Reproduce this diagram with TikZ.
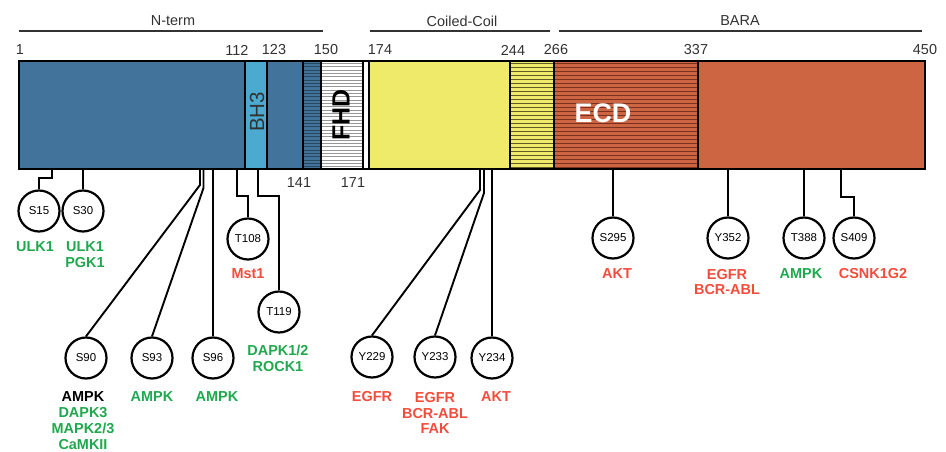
\documentclass[tikz,border=0pt]{standalone}
\usepackage{fontspec}
\setmainfont{Liberation Sans}
\usetikzlibrary{positioning}
\definecolor{nblue}{RGB}{66,116,155}
\definecolor{bhblue}{RGB}{76,170,208}
\definecolor{ccyel}{RGB}{240,234,106}
\definecolor{baraor}{RGB}{205,101,66}
\definecolor{kgreen}{RGB}{32,168,78}
\definecolor{kred}{RGB}{244,76,60}
\definecolor{txtgray}{RGB}{50,50,50}
\definecolor{hblue}{RGB}{40,72,98}
\definecolor{hgray}{RGB}{150,150,150}
\definecolor{hyel}{RGB}{95,92,40}
\definecolor{hor}{RGB}{120,50,30}

\begin{document}
\begin{tikzpicture}[x=1bp,y=-1bp,
  seg/.style={draw=black,line width=1.8bp},
  hatch/.style={line width=0.9bp},
  num/.style={text=txtgray,font=\fontsize{14.5}{16}\selectfont,inner sep=0pt},
  head/.style={text=txtgray,font=\fontsize{14.5}{16}\selectfont,inner sep=0pt},
  hline/.style={draw=txtgray,line width=1.3bp},
  site/.style={draw,circle,line width=2.2bp,minimum size=41bp,inner sep=0pt,fill=white,
    font=\fontsize{11.5}{12}\selectfont},
  stem/.style={line width=1.9bp},
  kin/.style={font=\fontsize{14.5}{16}\selectfont\bfseries,align=center,inner sep=0pt},
  kg/.style={kin,text=kgreen}, kr/.style={kin,text=kred}]
  \useasboundingbox (0,0) rectangle (946,452);
  % domain headers
  \node[head] (hN) at (173,21) {N-term};
  \node[head] (hC) at (462,21) {Coiled-Coil};
  \node[head] (hB) at (740,21) {BARA};
  \draw[hline] (19,31) -- (323,31);
  \draw[hline] (370,31) -- (550,31);
  \draw[hline] (559,31) -- (922,31);
  % residue numbers
  \foreach \n/\x in {1/20,112/237,123/274,150/326,174/380,244/513,266/556,337/696,450/925}
    \node[num] (n\n) at (\x,50) {\n};
  \node[num] (n141) at (299,183) {141};
  \node[num] (n171) at (353,183) {171};
  % fills
  \fill[nblue] (19,61) rectangle (245,169);
  \fill[bhblue] (245,61) rectangle (267,169);
  \fill[nblue] (267,61) rectangle (321,169);
  \fill[white] (321,61) rectangle (369,169);
  \fill[ccyel] (369,61) rectangle (554,169);
  \fill[baraor] (554,61) rectangle (925,169);
  % hatching
  \foreach \yy in {0,...,31} \draw[hatch,hblue] (303,{63.5+\yy*3.33}) -- (321,{63.5+\yy*3.33});
  \foreach \yy in {0,...,31} \draw[hatch,hgray] (321,{63.5+\yy*3.33}) -- (363,{63.5+\yy*3.33});
  \foreach \yy in {0,...,26} \draw[hatch,hyel] (510,{63.5+\yy*4}) -- (554,{63.5+\yy*4});
  \foreach \yy in {0,...,26} \draw[hatch,hor] (554,{63.5+\yy*4}) -- (698,{63.5+\yy*4});
  % segment borders
  \foreach \xa/\xb in {19/245,245/267,267/303,303/321,321/363,363/369,369/510,510/554,554/698,698/925}
    \draw[seg] (\xa,61) rectangle (\xb,169);
  % domain names
  \node[rotate=90,text=txtgray,font=\fontsize{20.5}{21}\selectfont,inner sep=0pt] (bh3) at (257,112) {BH3};
  \node[rotate=90,font=\fontsize{25}{26}\selectfont\bfseries,inner sep=0pt] (fhd) at (341,115) {FHD};
  \node[text=white,font=\fontsize{27}{28}\selectfont\bfseries,inner sep=0pt] (ecd) at (603,113) {ECD};
  % sites
  \foreach \s/\x/\y in {S15/39/211,S30/83/211,T108/248/239,T119/279/312,S90/86/358,S93/152/358,
    S96/213/358,Y229/372/357,Y233/435/357,Y234/492/358,S295/613/238,Y352/728/238,T388/804/238,S409/854/238}
    \node[site] (\s) at (\x,\y) {\s};
  % anchor points on the bar
  \foreach \s/\x in {S15/52,S30/83,S90/200,S93/203.5,S96/213,T108/237,T119/258,
    Y229/480,Y233/484,Y234/492,S295/613,Y352/728,T388/804,S409/841}
    \coordinate (b\s) at (\x,170);
  % stems
  \draw[stem] (bS15) -- ++(0,8) -| (S15.north);
  \draw[stem] (bS30) -- (S30.north);
  \draw[stem] (bT108) -- ++(0,26) -| (T108.north);
  \draw[stem] (bT119) -- ++(0,26) -| (T119.north);
  \draw[stem] (bS90) -- ++(0,15) -- (S90.north);
  \draw[stem] (bS93) -- ++(0,18) -- (S93.north);
  \draw[stem] (bS96) -- (S96.north);
  \draw[stem] (bY229) -- ++(0,20) -- (Y229.north);
  \draw[stem] (bY233) -- ++(0,23) -- (Y233.north);
  \draw[stem] (bY234) -- (Y234.north);
  \draw[stem] (bS295) -- (S295.north);
  \draw[stem] (bY352) -- (Y352.north);
  \draw[stem] (bT388) -- (T388.north);
  \draw[stem] (bS409) -- ++(0,27) -| (S409.north);
  % kinases
  \node[kg] (k15) at (35,247) {ULK1};
  \node[kg] (k30) at (85,255) {ULK1\\PGK1};
  \node[kr] (k108) at (248,274) {Mst1};
  \node[kg] (k119) at (278,358) {DAPK1/2\\ROCK1};
  \node[kg] (k90) at (83,421) {\textcolor{black}{AMPK}\\DAPK3\\MAPK2/3\\CaMKII};
  \node[kg] (k93) at (152,397) {AMPK};
  \node[kg] (k96) at (217,397) {AMPK};
  \node[kr] (k229) at (372,397) {EGFR};
  \node[kr] (k233) at (435,413) {EGFR\\BCR-ABL\\FAK};
  \node[kr] (k234) at (496,397) {AKT};
  \node[kr] (k295) at (617,274) {AKT};
  \node[kr] (k352) at (727,282) {EGFR\\BCR-ABL};
  \node[kg] (k388) at (801,274) {AMPK};
  \node[kr] (k409) at (873,274) {CSNK1G2};
\end{tikzpicture}
\end{document}
